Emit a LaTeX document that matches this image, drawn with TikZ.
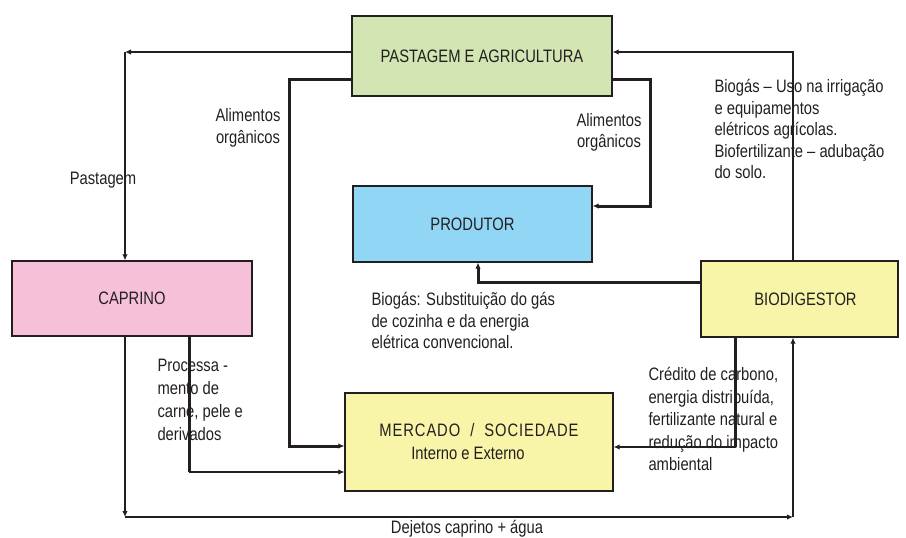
\documentclass[tikz,border=0pt]{standalone}
\usepackage{fontspec}
\setmainfont{Liberation Sans}[FakeStretch=0.82]
\usepackage{xcolor}
\usetikzlibrary{arrows.meta}
\definecolor{verdepas}{RGB}{211,229,178}
\definecolor{azulprod}{RGB}{145,214,245}
\definecolor{rosacap}{RGB}{246,192,216}
\definecolor{amarelo}{RGB}{248,244,168}
\definecolor{tinta}{RGB}{35,31,32}

\begin{document}
\begin{tikzpicture}[x=1pt,y=-1pt,
    every node/.style={font=\fontsize{18}{21.5}\selectfont, text=tinta},
    box/.style={draw=tinta, line width=1.3pt, inner sep=0pt},
    fino/.style={draw=tinta, line width=1.3pt, -{Latex[length=6pt,width=5.5pt]}},
    medio/.style={draw=tinta, line width=2pt, -{Latex[length=6pt,width=5.5pt]}},
    grosso/.style={draw=tinta, line width=3pt, -{Latex[length=6pt,width=5.5pt]}}]
    \useasboundingbox (0,0) rectangle (906,538);

    % caixas
    \node[box, fill=verdepas, minimum width=260pt, minimum height=80pt] (pas) at (482,56) {PASTAGEM E AGRICULTURA};
    \node[box, fill=azulprod, minimum width=239pt, minimum height=76pt] (pro) at (472.5,224) {PRODUTOR};
    \node[box, fill=rosacap, minimum width=240pt, minimum height=75pt] (cap) at (132,298.5) {CAPRINO};
    \node[box, fill=amarelo, minimum width=197pt, minimum height=76pt] (bio) at (799.5,299) {\hspace*{12pt}BIODIGESTOR};
    \node[box, fill=amarelo, minimum width=268pt, minimum height=98pt, align=center,
          font=\fontsize{18}{23}\selectfont] (mer) at (479,442)
          {{\addfontfeature{LetterSpace=5}MERCADO~~/~~SOCIEDADE}\\Interno e Externo\hspace*{22pt}};

    % pontos de dobra
    \coordinate (c1) at (125,52);
    \coordinate (c2) at (793,52);
    \coordinate (c3) at (289,79);
    \coordinate (c4) at (650,79);
    \coordinate (c5) at (289,446);
    \coordinate (c6) at (650,206);
    \coordinate (c7) at (478,282);
    \coordinate (c8) at (189,472);
    \coordinate (c9) at (125,517);
    \coordinate (c10) at (793,517);
    \coordinate (c11) at (735,447);

    % ligacoes
    \draw[fino] (pas.west |- c1) -- (c1);
    \draw[fino] (c1) -- (cap.north -| c1);
    \draw[fino] (bio.north -| c2) -- (c2) -- (pas.east |- c2);
    \draw[grosso] (pas.west |- c3) -- (c3) -- (c5) -- (mer.west |- c5);
    \draw[grosso] (pas.east |- c4) -- (c4) -- (c6) -- (pro.east |- c6);
    \draw[grosso] (bio.west |- c7) -- (c7) -- (pro.south -| c7);
    \draw[grosso, -] (cap.south -| c8) -- (c8);
    \draw[medio] (c8) -- (mer.west |- c8);
    \draw[fino] (cap.south -| c9) -- (c9);
    \draw[medio] (c9) -- (c10);
    \draw[fino] (c10) -- (bio.south -| c10);
    \draw[grosso, -] (bio.south -| c11) -- (c11);
    \draw[fino] (c11) -- (mer.east |- c11);

    % textos
    \node[anchor=base] (lpast) at (103,184) {Pastagem};
    \node[anchor=north, align=center] (lali1) at (248,105) {Alimentos\\orgânicos};
    \node[anchor=north, align=center, font=\fontsize{18}{20.5}\selectfont] (lali2) at (609,110) {Alimentos\\orgânicos};
    \node[anchor=north west, align=left] (lbio1) at (711,76)
        {Biogás – Uso na irrigação\\e equipamentos\\elétricos agrícolas.\\Biofertilizante – adubação\\do solo.};
    \node[anchor=north west, align=left] (lbio2) at (368,289)
        {Biogás: Substituição do gás\\de cozinha e da energia\\elétrica convencional.};
    \node[anchor=north west, align=left, font=\fontsize{18}{23}\selectfont] (lproc) at (154,356)
        {Processa -\\mento de\\carne, pele e\\derivados};
    \node[anchor=north west, align=left, font=\fontsize{18}{22.5}\selectfont] (lcred) at (645,364)
        {Crédito de carbono,\\energia distribuída,\\fertilizante natural e\\redução do impacto\\ambiental};
    \node[anchor=base] (ldej) at (467,533) {Dejetos caprino + água};
\end{tikzpicture}
\end{document}
